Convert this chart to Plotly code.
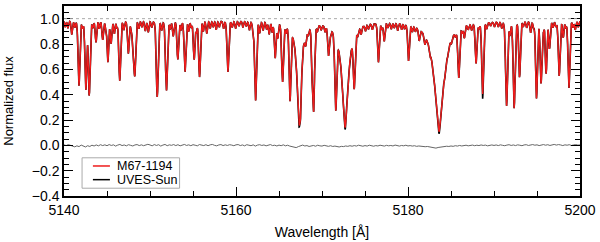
import numpy as np
import plotly.graph_objects as go

# ---------------- data ----------------
# absorption lines of the M67-1194 spectrum: centre [A], central depth, half width [A]
line_wave = [
    5140.15, 5140.45, 5140.90, 5141.25, 5141.74, 5142.15, 5142.54, 5142.93, 5143.35, 5143.72,
    5144.10, 5144.50, 5144.85, 5145.10, 5145.47, 5145.85, 5146.15, 5146.48, 5146.95, 5147.48,
    5147.80, 5148.04, 5148.23, 5148.70, 5149.05, 5149.45, 5149.80, 5150.20, 5150.84, 5151.35,
    5151.91, 5152.35, 5152.70, 5153.23, 5153.60, 5154.07, 5154.50, 5154.80, 5155.13, 5155.40,
    5155.76, 5156.20, 5156.60, 5157.00, 5157.35, 5157.70, 5158.05, 5158.55, 5159.06, 5159.55,
    5159.95, 5160.35, 5160.80, 5161.20, 5161.55, 5161.95, 5162.27, 5162.75, 5163.15, 5163.55,
    5163.85, 5164.20, 5164.55, 5164.85, 5165.41, 5165.80, 5166.28, 5167.32, 5167.49, 5168.10,
    5168.40, 5168.88, 5169.03, 5169.45, 5169.90, 5170.35, 5170.76, 5171.00, 5171.60, 5172.68,
    5173.10, 5173.74, 5174.15, 5174.55, 5175.05, 5175.40, 5175.85, 5176.56, 5176.95, 5177.23,
    5177.65, 5178.05, 5178.40, 5178.80, 5179.25, 5179.60, 5180.06, 5180.50, 5180.85, 5181.30,
    5181.95, 5182.55, 5183.60, 5184.27, 5184.60, 5185.05, 5185.52, 5185.90, 5186.30, 5186.55,
    5187.00, 5187.40, 5187.91, 5188.25, 5188.68, 5189.15, 5189.60, 5190.05, 5190.50, 5190.90,
    5191.46, 5191.85, 5192.34, 5192.97, 5193.40, 5193.80, 5194.25, 5194.60, 5194.94, 5195.47,
    5195.75, 5196.06, 5196.45, 5196.85, 5197.20, 5197.58, 5198.05, 5198.35, 5198.71, 5199.20,
    5199.45, 5199.80,
]
line_depth = [
    0.05, 0.06, 0.11, 0.05, 0.52, 0.05, 0.55, 0.60, 0.05, 0.17,
    0.06, 0.15, 0.05, 0.33, 0.18, 0.10, 0.05, 0.48, 0.07, 0.26,
    0.05, 0.28, 0.42, 0.06, 0.05, 0.08, 0.09, 0.05, 0.61, 0.07,
    0.56, 0.06, 0.12, 0.31, 0.07, 0.41, 0.08, 0.05, 0.31, 0.08,
    0.45, 0.08, 0.10, 0.06, 0.05, 0.07, 0.05, 0.06, 0.41, 0.05,
    0.06, 0.04, 0.05, 0.04, 0.07, 0.05, 0.64, 0.09, 0.07, 0.06,
    0.10, 0.08, 0.29, 0.12, 0.48, 0.06, 0.62, 0.52, 0.50, 0.10,
    0.05, 0.40, 0.68, 0.05, 0.04, 0.05, 0.24, 0.05, 0.68, 0.52,
    0.05, 0.48, 0.05, 0.06, 0.05, 0.04, 0.05, 0.32, 0.05, 0.15,
    0.04, 0.05, 0.04, 0.06, 0.05, 0.04, 0.30, 0.05, 0.04, 0.10,
    0.08, 0.06, 0.50, 0.10, 0.05, 0.04, 0.04, 0.42, 0.05, 0.10,
    0.04, 0.05, 0.33, 0.04, 0.58, 0.05, 0.03, 0.04, 0.04, 0.05,
    0.68, 0.10, 0.70, 0.45, 0.04, 0.05, 0.09, 0.05, 0.62, 0.50,
    0.06, 0.42, 0.22, 0.05, 0.04, 0.44, 0.13, 0.05, 0.54, 0.05,
    0.07, 0.05,
]
line_hwhm = [
    0.08, 0.08, 0.09, 0.08, 0.12, 0.08, 0.12, 0.12, 0.08, 0.10,
    0.08, 0.10, 0.08, 0.11, 0.10, 0.09, 0.08, 0.12, 0.08, 0.11,
    0.08, 0.11, 0.11, 0.08, 0.08, 0.09, 0.09, 0.08, 0.13, 0.08,
    0.13, 0.08, 0.10, 0.11, 0.08, 0.12, 0.08, 0.08, 0.11, 0.08,
    0.12, 0.08, 0.09, 0.08, 0.08, 0.08, 0.08, 0.08, 0.12, 0.08,
    0.08, 0.08, 0.08, 0.08, 0.08, 0.08, 0.13, 0.08, 0.08, 0.08,
    0.09, 0.08, 0.11, 0.09, 0.12, 0.08, 0.12, 0.14, 0.12, 0.10,
    0.08, 0.11, 0.12, 0.08, 0.08, 0.08, 0.11, 0.08, 0.13, 0.15,
    0.08, 0.12, 0.08, 0.08, 0.08, 0.08, 0.08, 0.11, 0.08, 0.10,
    0.08, 0.08, 0.08, 0.08, 0.08, 0.08, 0.11, 0.08, 0.08, 0.10,
    0.10, 0.08, 0.16, 0.10, 0.08, 0.08, 0.08, 0.12, 0.08, 0.09,
    0.08, 0.08, 0.11, 0.08, 0.12, 0.08, 0.08, 0.08, 0.08, 0.08,
    0.13, 0.09, 0.13, 0.11, 0.08, 0.08, 0.09, 0.08, 0.12, 0.12,
    0.08, 0.11, 0.10, 0.08, 0.08, 0.12, 0.09, 0.08, 0.12, 0.08,
    0.08, 0.08,
]
# broad (pressure broadened) wings of the Mg I b triplet
wing_wave = [5167.32, 5172.68, 5183.60]
wing_depth = [0.60, 0.70, 0.78]
wing_hwhm = [0.35, 0.50, 0.70]

# lines that are a bit deeper in the UVES solar spectrum
sun_changed_wave = [5167.32, 5172.68, 5183.60, 5188.68]
sun_changed_depth = [0.56, 0.57, 0.57, 0.62]

continuum = 0.985

# residual (M67-1194 minus Sun), every 0.25 A from 5140 to 5200
resid_start = 5140.0
resid_step = 0.25
residual = [
    0.004, -0.002, 0.006, 0.001, -0.008, -0.012, -0.004, -0.010, 0.002, -0.006,
    -0.013, -0.003, -0.009, 0.001, -0.005, 0.003, -0.004, 0.005, -0.002, 0.004,
    -0.003, 0.006, -0.001, 0.004, -0.006, 0.002, 0.007, -0.002, 0.003, -0.004,
    0.005, 0.000, -0.005, 0.003, 0.006, -0.002, 0.004, -0.003, 0.002, 0.008,
    0.003, -0.004, 0.006, -0.001, 0.005, -0.006, 0.002, 0.007, -0.003, 0.004,
    0.000, 0.006, -0.002, 0.005, -0.004, 0.003, 0.007, -0.001, 0.004, -0.003,
    0.005, 0.001, -0.004, 0.006, 0.002, -0.002, 0.005, -0.003, 0.004, 0.007,
    0.000, -0.004, 0.003, 0.006, -0.002, 0.004, -0.001, 0.005, 0.002, -0.003,
    0.004, 0.006, -0.002, 0.003, -0.004, 0.005, 0.001, -0.003, 0.004, -0.006,
    0.002, 0.005, -0.001, 0.003, -0.004, 0.002, 0.006, -0.002, 0.001, -0.005,
    0.002, -0.003, 0.004, -0.004, 0.001, -0.006, -0.008, -0.014, -0.018, -0.010,
    -0.004, 0.002, -0.005, -0.002, -0.009, -0.006, -0.001, -0.007, 0.001, -0.004,
    -0.006, 0.000, -0.005, -0.008, -0.003, -0.009, -0.006, -0.011, -0.013, -0.008,
    -0.010, -0.005, -0.008, -0.003, -0.007, -0.002, -0.006, 0.001, -0.004, -0.007,
    -0.002, -0.006, 0.001, -0.004, -0.007, -0.002, -0.005, 0.001, -0.003, -0.006,
    0.000, -0.004, -0.001, -0.005, 0.002, -0.003, -0.006, -0.001, -0.004, 0.001,
    -0.005, -0.002, -0.006, -0.003, -0.008, -0.005, -0.009, -0.007, -0.011, -0.009,
    -0.013, -0.016, -0.019, -0.022, -0.017, -0.014, -0.010, -0.012, -0.007, -0.009,
    -0.005, -0.008, -0.003, -0.006, -0.001, -0.005, -0.002, 0.001, -0.004, -0.001,
    0.002, -0.003, 0.001, -0.002, 0.003, -0.001, 0.002, -0.004, 0.001, 0.003,
    -0.001, 0.003, -0.002, 0.004, 0.000, -0.003, 0.002, 0.005, -0.001, 0.003,
    -0.002, 0.004, 0.001, -0.003, 0.003, 0.005, -0.001, 0.002, 0.006, 0.001,
    0.004, -0.002, 0.003, 0.006, 0.001, 0.005, -0.001, 0.004, 0.007, 0.002,
    0.006, 0.003, -0.002, 0.004, 0.001, 0.005, -0.001, 0.003, 0.006, 0.002,
    0.003,
]

series_names = ["M67-1194", "UVES-Sun"]
series_colors = ["#ee1c1c", "black"]

x_range = [5140, 5200]
y_range = [-0.4, 1.1]

# ---------------- build the spectra from the line list ----------------
wl = np.arange(5140.0, 5200.0001, 0.02)


def spectrum(depths):
    f = np.full_like(wl, continuum)
    eta = 0.15
    for c, d, w in zip(line_wave, depths, line_hwhm):
        u = (wl - c) / w
        prof = eta / (1 + u ** 2) + (1 - eta) * np.exp(-np.log(2) * u ** 2)
        f *= 1 - d * prof
    for c, d, w in zip(wing_wave, wing_depth, wing_hwhm):
        u = (wl - c) / w
        f *= 1 - d / (1 + u ** 2)
    return f


flux_m67 = spectrum(line_depth)
sun_depth = list(line_depth)
for c, d in zip(sun_changed_wave, sun_changed_depth):
    sun_depth[line_wave.index(c)] = d
flux_sun = spectrum(sun_depth)

resid_wave = resid_start + resid_step * np.arange(len(residual))

FONT = "Liberation Sans, Arial, Helvetica, sans-serif"

fig = go.Figure()
fig.add_hline(y=1.0, line=dict(color="#aaaaaa", width=1, dash="dot"))
fig.add_trace(go.Scatter(x=resid_wave, y=residual, mode="lines",
                         line=dict(color="#666666", width=1), showlegend=False,
                         hoverinfo="skip"))
fig.add_trace(go.Scatter(x=wl, y=flux_sun, mode="lines", name=series_names[1],
                         line=dict(color=series_colors[1], width=1.6), showlegend=False))
fig.add_trace(go.Scatter(x=wl, y=flux_m67, mode="lines", name=series_names[0],
                         line=dict(color=series_colors[0], width=1.4), showlegend=False))

# ---- legend box drawn in paper coordinates (IDL style compact legend) ----
fig.add_shape(type="rect", xref="paper", yref="paper",
              x0=0.035, x1=0.224, y0=0.041, y1=0.201,
              line=dict(color="#aaaaaa", width=1), fillcolor="white", layer="above")
for i, (nm, col) in enumerate(zip(series_names, series_colors)):
    yy = 0.158 - i * 0.072
    fig.add_shape(type="line", xref="paper", yref="paper",
                  x0=0.056, x1=0.089, y0=yy, y1=yy,
                  line=dict(color=col, width=1.5), layer="above")
    fig.add_annotation(xref="paper", yref="paper", x=0.099, y=yy, text=nm,
                       showarrow=False, xanchor="left", yanchor="middle",
                       font=dict(family=FONT, size=12.5, color="black"))

# y title as annotation so it sits close to the left edge
fig.add_annotation(xref="paper", yref="paper", x=-0.109, y=0.5,
                   text="Normalized flux", textangle=-90, showarrow=False,
                   xanchor="center", yanchor="middle",
                   font=dict(family=FONT, size=13, color="black"))

axis_common = dict(
    showline=True, linecolor="black", linewidth=1.5, mirror="allticks",
    ticks="inside", tickcolor="black", tickwidth=1.2, ticklen=9,
    showgrid=False, zeroline=False,
    tickfont=dict(family=FONT, size=14, color="black"),
)

fig.update_xaxes(
    range=x_range, tick0=5140, dtick=20,
    minor=dict(ticks="inside", dtick=5, ticklen=5, tickcolor="black", tickwidth=1.2),
    title=dict(text="Wavelength [Å]", font=dict(family=FONT, size=14, color="black"),
               standoff=11),
    **axis_common,
)
fig.update_yaxes(
    range=y_range, tick0=0, dtick=0.2, tickformat=".1f",
    minor=dict(ticks="inside", dtick=0.05, ticklen=5, tickcolor="black", tickwidth=1.2),
    **axis_common,
)

fig.update_layout(
    width=600, height=242,
    margin=dict(l=64, r=19, t=4, b=44),
    paper_bgcolor="white", plot_bgcolor="white",
    font=dict(family=FONT, size=14, color="black"),
    showlegend=False,
)

fig.write_html("out.html", config={"displayModeBar": False},
               post_script="document.body.style.margin='0';document.body.style.padding='0';")
